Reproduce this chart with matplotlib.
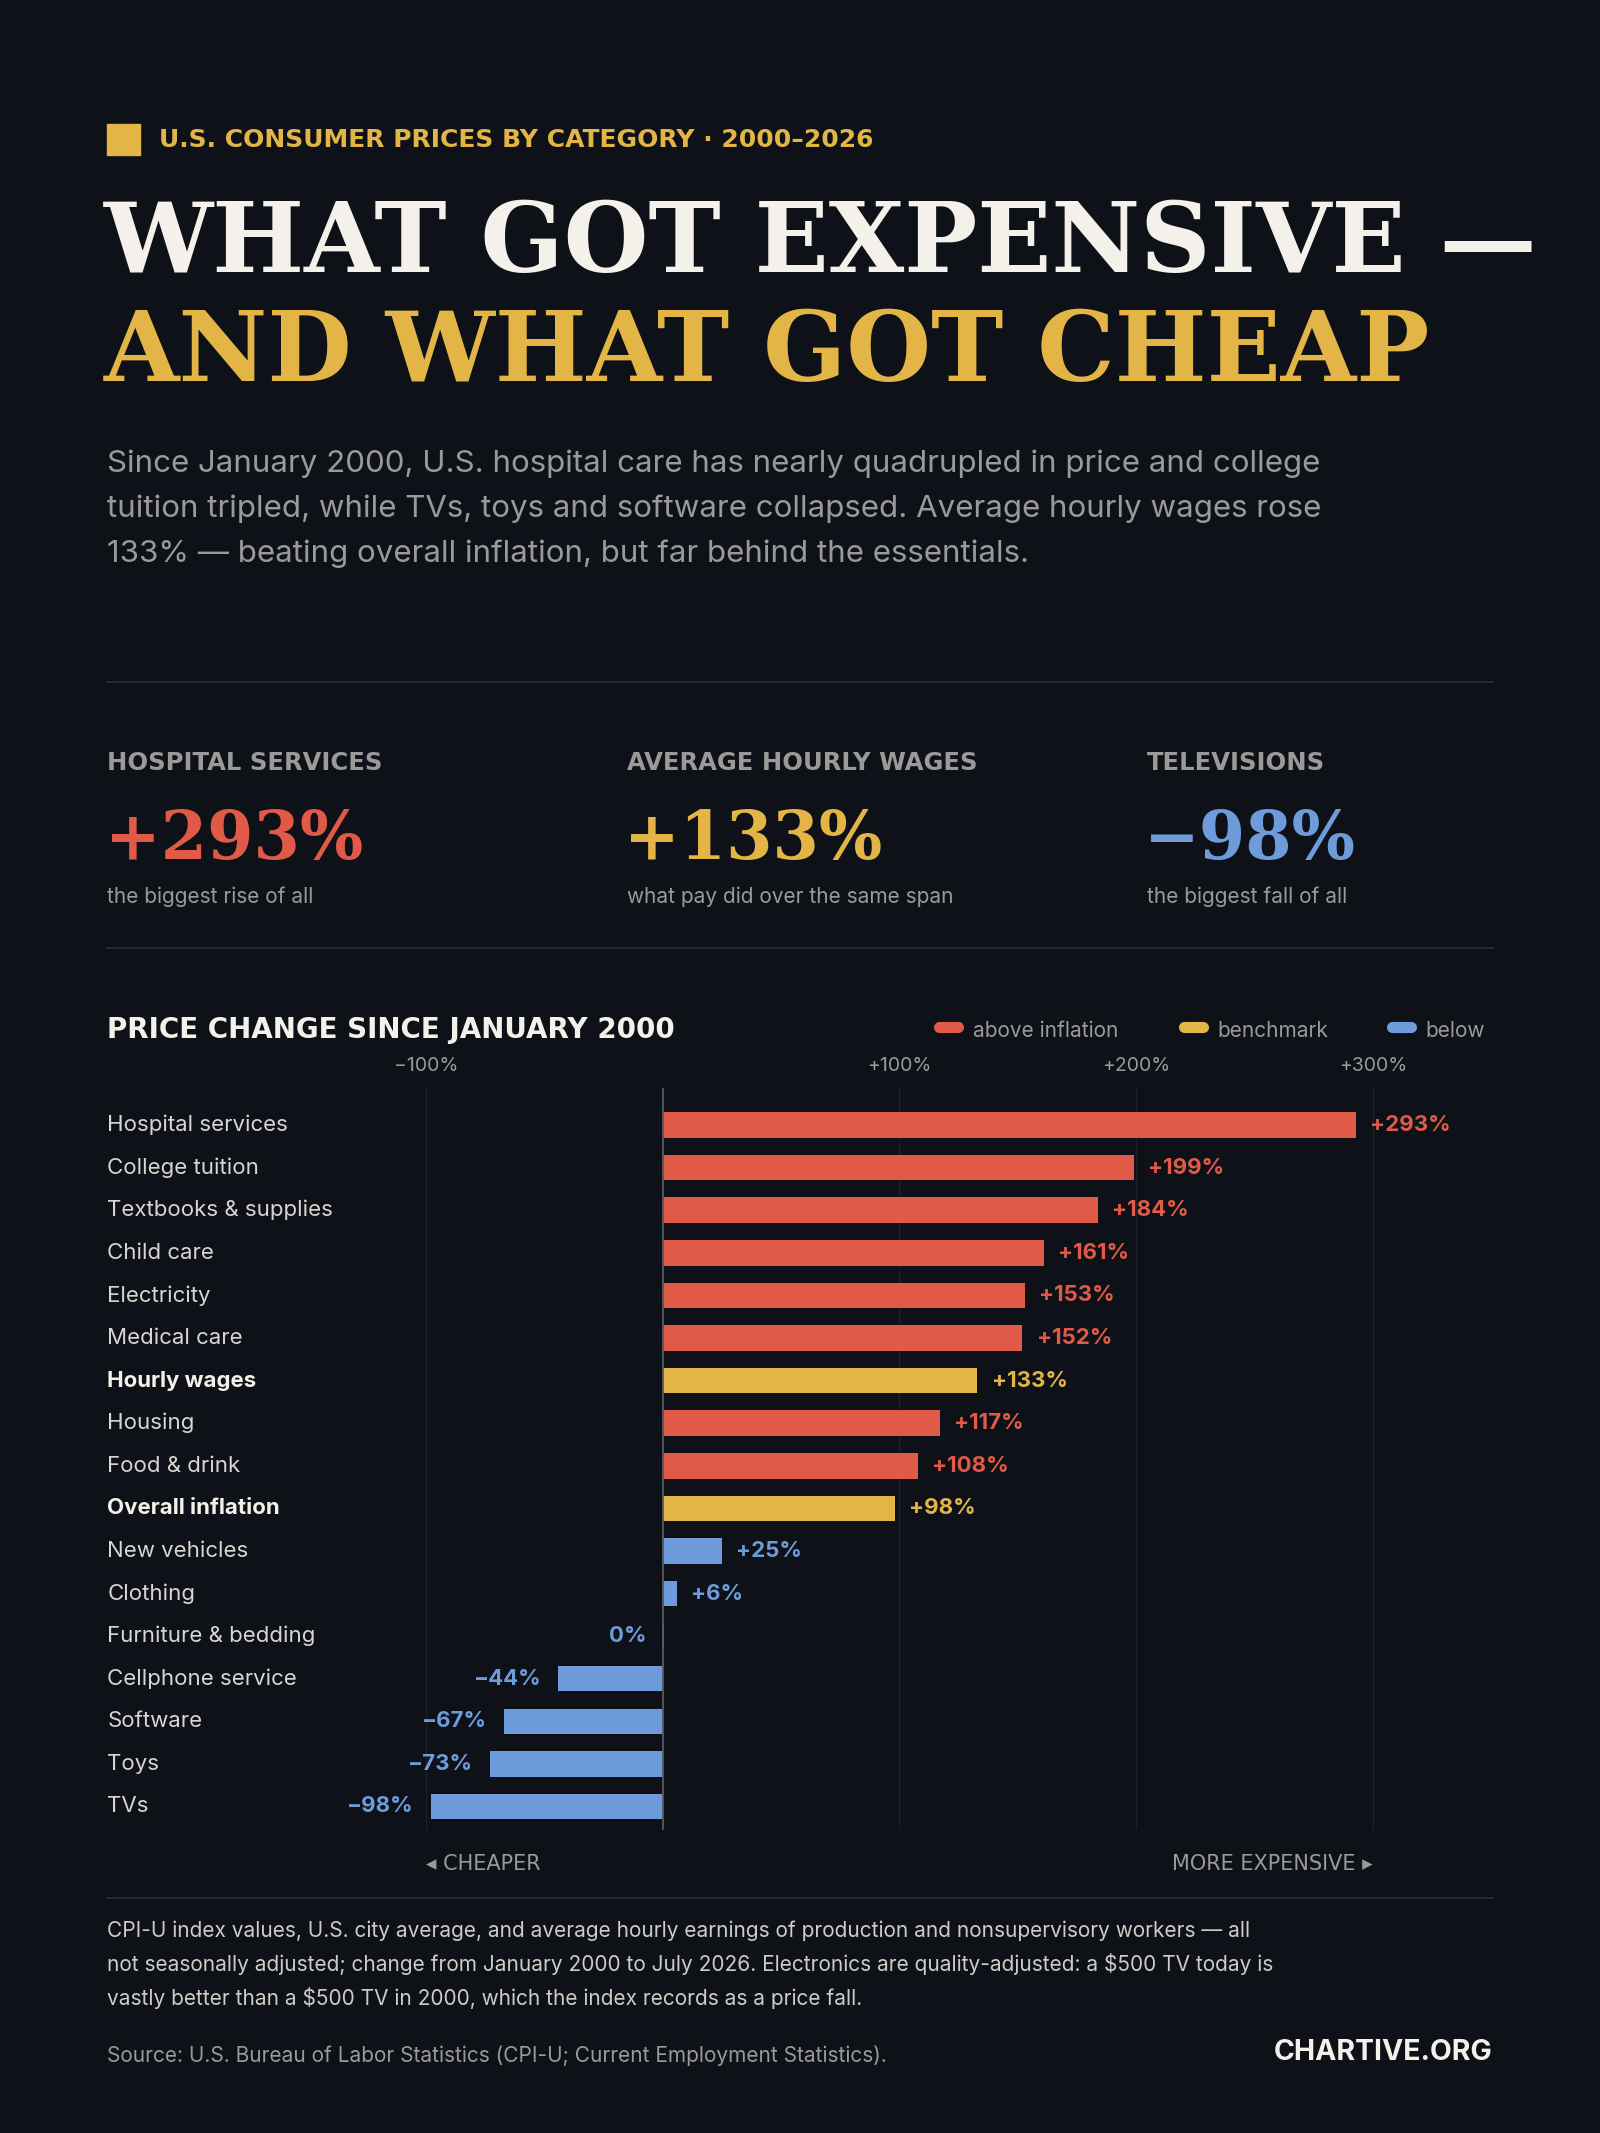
import matplotlib
matplotlib.use("Agg")
import matplotlib.pyplot as plt
from matplotlib.patches import Rectangle

categories = ["Hospital services","College tuition","Textbooks & supplies","Child care","Electricity",
              "Medical care","Hourly wages","Housing","Food & drink","Overall inflation","New vehicles",
              "Clothing","Furniture & bedding","Cellphone service","Software","Toys","TVs"]
values = [293,199,184,161,153,152,133,117,108,98,25,6,0,-44,-67,-73,-98]
groups = ["above","above","above","above","above","above","bench","above","above","bench",
          "below","below","below","below","below","below","below"]
ticks = [-100,100,200,300]
tick_labels = ["\u2212100%","+100%","+200%","+300%"]

BG="#0e1117"; RED="#e05a47"; GOLD="#e3b546"; BLUE="#6e9cdb"
GREY="#9a9a98"; WHITE="#f4f1ea"; RULE="#2a2e36"
colmap={"above":RED,"bench":GOLD,"below":BLUE}
SANS=["Inter","DejaVu Sans"]; SERIF=["DejaVu Serif"]; WIDE=["DejaVu Sans"]

W,H=1176,1568
fig=plt.figure(figsize=(16,21.33),dpi=100,facecolor=BG)
def fx(x): return x/W
def fy(y): return 1-y/H
def T(x,y,s,**k):
    k.setdefault("family",SANS)
    fig.text(fx(x),fy(y),s,**k)

fig.patches.append(Rectangle((fx(79),fy(114)),24/W,23/H,transform=fig.transFigure,color=GOLD))
T(117,103,"U.S. CONSUMER PRICES BY CATEGORY · 2000–2026",color=GOLD,fontsize=18,weight="bold",va="center",family=WIDE)
T(76,180,"WHAT GOT EXPENSIVE —",color=WHITE,fontsize=70,weight="bold",va="center",family=SERIF)
T(76,260,"AND WHAT GOT CHEAP",color=GOLD,fontsize=70,weight="bold",va="center",family=SERIF)
sub=["Since January 2000, U.S. hospital care has nearly quadrupled in price and college",
     "tuition tripled, while TVs, toys and software collapsed. Average hourly wages rose",
     "133% — beating overall inflation, but far behind the essentials."]
for i,s in enumerate(sub):
    T(79,341+33*i,s,color=GREY,fontsize=22.5,va="center")
for yy in (501,697,1395):
    fig.add_artist(plt.Line2D([fx(79),fx(1097)],[fy(yy)]*2,color=RULE,lw=1.2,transform=fig.transFigure))

kpis=[(79,"HOSPITAL SERVICES","+293%",RED,"the biggest rise of all"),
      (461,"AVERAGE HOURLY WAGES","+133%",GOLD,"what pay did over the same span"),
      (843,"TELEVISIONS","\u221298%",BLUE,"the biggest fall of all")]
for x,l,v,c,cap in kpis:
    T(x,561,l,color=GREY,fontsize=17.5,weight="bold",va="center",family=WIDE)
    T(x-2,618,v,color=c,fontsize=48,weight="bold",va="center",family=SERIF)
    T(x,659,cap,color=GREY,fontsize=15,va="center")

T(79,757,"PRICE CHANGE SINCE JANUARY 2000",color=WHITE,fontsize=20,weight="bold",va="center",family=WIDE)
for x,l,c in [(697,"above inflation",RED),(877,"benchmark",GOLD),(1030,"below",BLUE)]:
    fig.add_artist(plt.Line2D([fx(x-7),fx(x+7)],[fy(755)]*2,color=c,lw=8,solid_capstyle="round",transform=fig.transFigure))
    T(x+18,758,l,color=GREY,fontsize=15,va="center")

x0,x1=79,1097; yt,yb=800,1345
ax=fig.add_axes([fx(x0),fy(yb),(x1-x0)/W,(yb-yt)/H])
ax.set_facecolor(BG)
for s in ax.spines.values(): s.set_visible(False)
ax.set_xlim((x0-487)/1.74,(x1-487)/1.74)
ax.set_ylim((yb-827)/31.31,(yt-827)/31.31)
ax.set_xticks([]); ax.set_yticks([])
for t in ticks:
    ax.axvline(t,color="#1c2029",lw=1,zorder=0)
ax.axvline(0,color="#555a63",lw=1.3,zorder=3)
for t,l in zip(ticks,tick_labels):
    ax.text(t,(784-827)/31.31,l,color=GREY,fontsize=14,ha="center",va="center",family=SANS)
for i,(c,v,g) in enumerate(zip(categories,values,groups)):
    col=colmap[g]
    ax.barh(i,v if v!=0 else 0.6,height=0.6,color=col,zorder=2)
    bold = g=="bench"
    ax.text((79-487)/1.74,i,c,color=WHITE if bold else "#d8d6d0",fontsize=16,
            weight="bold" if bold else "normal",va="center",ha="left",family=SANS)
    lab=("+%d%%"%v) if v>0 else ("%d%%"%v if v==0 else "\u2212%d%%"%(-v))
    if v>0:
        ax.text(v+6,i,lab,color=col,fontsize=16,weight="bold",va="center",ha="left",family=SANS)
    else:
        ax.text(v-7,i,lab,color=col,fontsize=16,weight="bold",va="center",ha="right",family=SANS)

T(313,1370,"◂ CHEAPER",color=GREY,fontsize=15,va="center",family=WIDE)
T(1009,1370,"MORE EXPENSIVE ▸",color=GREY,fontsize=15,va="center",ha="right",family=WIDE)
foot=["CPI-U index values, U.S. city average, and average hourly earnings of production and nonsupervisory workers — all",
      "not seasonally adjusted; change from January 2000 to July 2026. Electronics are quality-adjusted: a $500 TV today is",
      "vastly better than a $500 TV in 2000, which the index records as a price fall."]
for i,s in enumerate(foot):
    T(79,1419+25*i,s,color="#cfccc5",fontsize=15,va="center")
T(79,1511,"Source: U.S. Bureau of Labor Statistics (CPI-U; Current Employment Statistics).",color=GREY,fontsize=15,va="center")
T(1097,1509,"CHARTIVE.ORG",color=WHITE,fontsize=20.5,weight="bold",va="center",ha="right")
fig.savefig("out.png",dpi=100,facecolor=BG)
